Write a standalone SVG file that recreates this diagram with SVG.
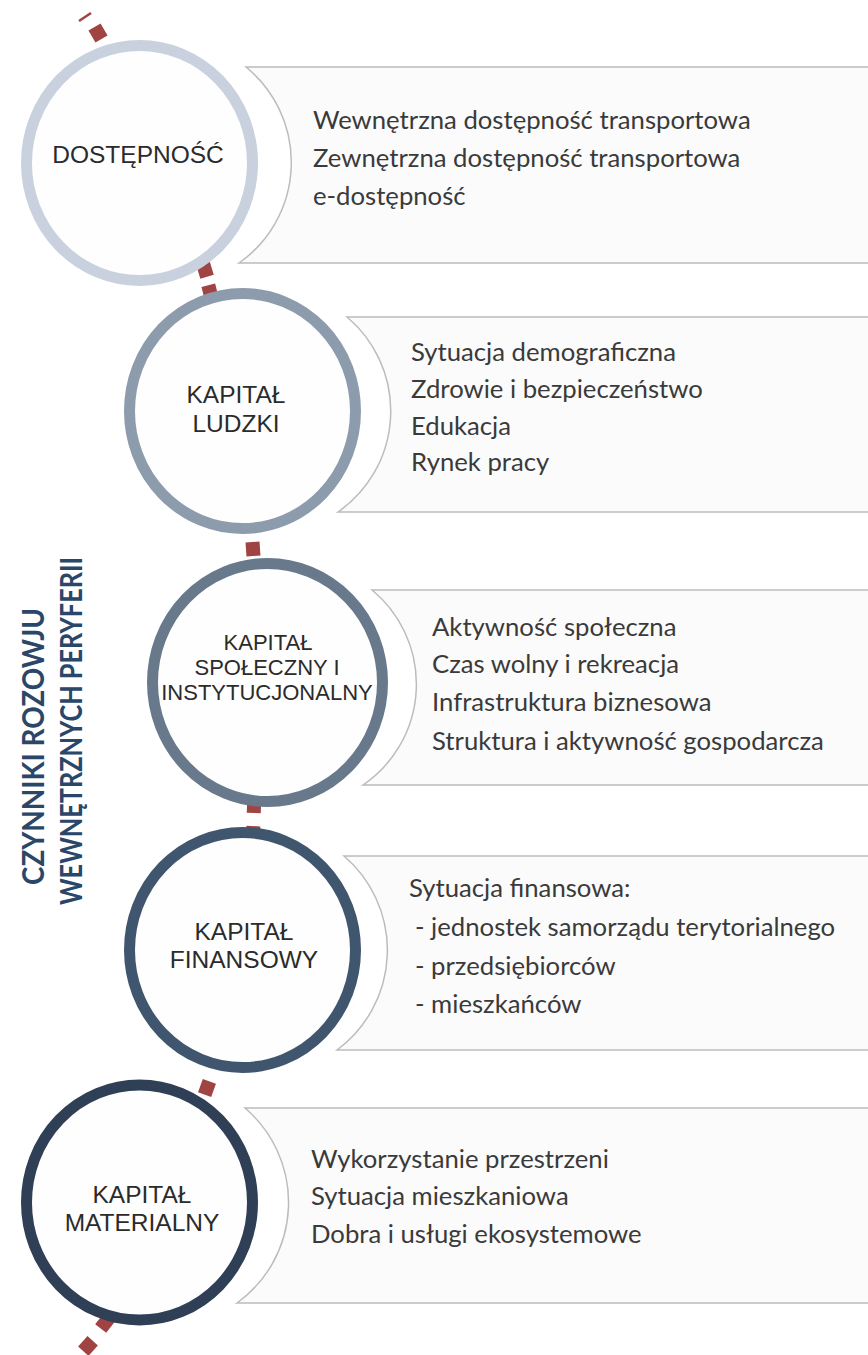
<svg xmlns="http://www.w3.org/2000/svg" width="868" height="1355" viewBox="0 0 868 1355">
<style>
.bg{fill:#ffffff}
.dash{fill:#9f4343}
.panel{fill:#fbfbfb;stroke:#bcbcbc;stroke-width:1.5}
.ring{fill:#fefefe;stroke-width:11}
.lbl{font-family:"Liberation Sans",Arial,sans-serif;font-size:24.5px;fill:#2b2b2b;text-anchor:middle}
.lbl.s{font-size:22px}
.itm{font-family:Lato,"Open Sans",sans-serif;font-size:25.7px;fill:#3a3a3a}
.side{font-family:Lato,"Open Sans",sans-serif;font-weight:bold;font-size:30px;fill:#2a4769}
</style>
<rect class="bg" x="0" y="0" width="868" height="1355"/>

<g id="connectors">
  <line x1="79" y1="21" x2="91" y2="13" stroke="#9f4343" stroke-width="2.5"/>
  <rect class="dash" x="-7" y="-7" width="14" height="14" transform="translate(98,33) rotate(-30)"/>
  <rect class="dash" x="-7" y="-7" width="14" height="14" transform="translate(205,270) rotate(-17)"/>
  <rect class="dash" x="-7" y="-7" width="14" height="14" transform="translate(210,292) rotate(-14)"/>
  <rect class="dash" x="-7" y="-7" width="14" height="14" transform="translate(253,549) rotate(-4)"/>
  <rect class="dash" x="-7" y="-7" width="14" height="14" transform="translate(254,806) rotate(2)"/>
  <rect class="dash" x="-7" y="-7" width="14" height="14" transform="translate(253,833) rotate(3)"/>
  <rect class="dash" x="-7" y="-7" width="14" height="14" transform="translate(207,1088) rotate(20)"/>
  <rect class="dash" x="-7" y="-7" width="14" height="14" transform="translate(105,1323) rotate(38)"/>
  <rect class="dash" x="-7" y="-7" width="14" height="14" transform="translate(88,1346) rotate(42)"/>
</g>

<g id="side-title">
  <text class="side" transform="translate(44,885) rotate(-90)" textLength="277" lengthAdjust="spacingAndGlyphs">CZYNNIKI ROZOWJU</text>
  <text class="side" transform="translate(82,905) rotate(-90)" textLength="348" lengthAdjust="spacingAndGlyphs">WEWNĘTRZNYCH PERYFERII</text>
</g>

<g id="panel-dostepnosc">
  <path class="panel" d="M246,67 L880,67 L880,263 L239,263 A123,123 0 0 0 246,67 Z"/>
  <text class="itm" x="313" y="129">Wewnętrzna dostępność transportowa</text>
  <text class="itm" x="313" y="167">Zewnętrzna dostępność transportowa</text>
  <text class="itm" x="313" y="205">e-dostępność</text>
</g>
<g id="panel-ludzki">
  <path class="panel" d="M347,317 L880,317 L880,512 L338,512 A123,123 0 0 0 347,317 Z"/>
  <text class="itm" x="411" y="361">Sytuacja demograficzna</text>
  <text class="itm" x="411" y="398">Zdrowie i bezpieczeństwo</text>
  <text class="itm" x="411" y="435">Edukacja</text>
  <text class="itm" x="411" y="471">Rynek pracy</text>
</g>
<g id="panel-spoleczny">
  <path class="panel" d="M372,590 L880,590 L880,785 L363,785 A122,122 0 0 0 372,590 Z"/>
  <text class="itm" x="432" y="636">Aktywność społeczna</text>
  <text class="itm" x="432" y="673">Czas wolny i rekreacja</text>
  <text class="itm" x="432" y="711">Infrastruktura biznesowa</text>
  <text class="itm" x="432" y="750">Struktura i aktywność gospodarcza</text>
</g>
<g id="panel-finansowy">
  <path class="panel" d="M344,856 L880,856 L880,1050 L337,1050 A124,124 0 0 0 344,856 Z"/>
  <text class="itm" x="409" y="897">Sytuacja finansowa:</text>
  <text class="itm" x="415" y="936">- jednostek samorządu terytorialnego</text>
  <text class="itm" x="415" y="975">- przedsiębiorców</text>
  <text class="itm" x="415" y="1013">- mieszkańców</text>
</g>
<g id="panel-materialny">
  <path class="panel" d="M245,1108 L880,1108 L880,1303 L237,1303 A124,124 0 0 0 245,1108 Z"/>
  <text class="itm" x="311" y="1168">Wykorzystanie przestrzeni</text>
  <text class="itm" x="311" y="1205">Sytuacja mieszkaniowa</text>
  <text class="itm" x="311" y="1243">Dobra i usługi ekosystemowe</text>
</g>

<g id="node-dostepnosc">
  <ellipse class="ring" cx="139.5" cy="163" rx="113" ry="117.5" stroke="#c9d1de"/>
  <text class="lbl" x="138" y="163">DOSTĘPNOŚĆ</text>
</g>
<g id="node-ludzki">
  <ellipse class="ring" cx="242.5" cy="411" rx="113" ry="117.5" stroke="#8d9cad"/>
  <text class="lbl" x="236" y="403">KAPITAŁ</text>
  <text class="lbl" x="236" y="432">LUDZKI</text>
</g>
<g id="node-spoleczny">
  <ellipse class="ring" cx="267.5" cy="682.5" rx="115" ry="119" stroke="#67798b"/>
  <text class="lbl s" x="268" y="650">KAPITAŁ</text>
  <text class="lbl s" x="267" y="675">SPOŁECZNY I</text>
  <text class="lbl s" x="267" y="700">INSTYTUCJONALNY</text>
</g>
<g id="node-finansowy">
  <ellipse class="ring" cx="242.5" cy="950" rx="113" ry="117.5" stroke="#40566f"/>
  <text class="lbl" x="244" y="940">KAPITAŁ</text>
  <text class="lbl" x="244" y="968">FINANSOWY</text>
</g>
<g id="node-materialny">
  <ellipse class="ring" cx="139.5" cy="1202.5" rx="113" ry="117.5" stroke="#2e3f56"/>
  <text class="lbl" x="142" y="1203">KAPITAŁ</text>
  <text class="lbl" x="142" y="1231">MATERIALNY</text>
</g>
</svg>
